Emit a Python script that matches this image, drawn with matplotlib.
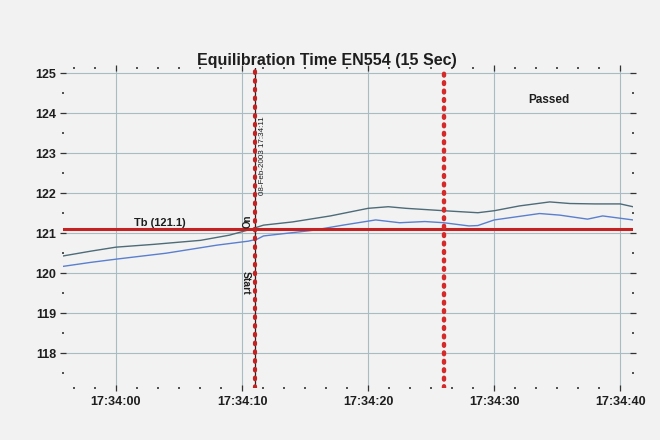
import numpy as np
import matplotlib.pyplot as plt
from matplotlib.ticker import MultipleLocator

# seconds after 17:34:00
t_upper = [-4.2, -2, 0, 3, 6.7, 9, 10.5, 11.7, 14, 17, 20, 21.6, 23, 26, 28.7,
           30, 32, 34.4, 36, 38, 40, 41]
upper = [120.43, 120.55, 120.65, 120.72, 120.82, 120.95, 121.08, 121.2, 121.28,
         121.43, 121.62, 121.66, 121.62, 121.56, 121.51, 121.56, 121.68, 121.78,
         121.74, 121.73, 121.73, 121.66]

t_lower = [-4.2, -2, 0, 4, 8, 10.5, 11.2, 11.7, 15.6, 18, 20, 20.6, 22.5, 24.5,
           26, 28, 28.7, 30, 33.6, 35.2, 37.4, 38.6, 41]
lower = [120.17, 120.27, 120.35, 120.5, 120.7, 120.8, 120.85, 120.93, 121.07,
         121.2, 121.3, 121.33, 121.26, 121.29, 121.26, 121.18, 121.19, 121.33,
         121.49, 121.45, 121.35, 121.43, 121.33]

tb = 121.1
t_start = 11
t_end = 26
xtick_pos = [0, 10, 20, 30, 40]
xtick_labels = ['17:34:00', '17:34:10', '17:34:20', '17:34:30', '17:34:40']
yticks = [118, 119, 120, 121, 122, 123, 124, 125]

plt.rcParams['font.family'] = ['Liberation Sans', 'DejaVu Sans']
bg = '#f2f2f2'
ink = '#1e1e1e'

fig = plt.figure(figsize=(6.6, 4.4), dpi=100, facecolor=bg)
ax = fig.add_axes([0.0955, 0.118, 0.8635, 0.727], facecolor=bg)

ax.grid(True, color='#a9bcc4', lw=0.8, zorder=0)
ax.plot(t_upper, upper, color='#4d6b78', lw=1.0, zorder=2)
ax.plot(t_lower, lower, color='#5a7fcf', lw=1.0, zorder=2)

ax.axhline(tb, color='#c42222', lw=2.2, zorder=3)

# start / end markers
ax.axvline(t_start, color='#222222', lw=0.9, zorder=4)
ax.axvline(t_start, color='#c42222', lw=3.0, ls=(0, (0.4, 1.7)),
           dash_capstyle='round', zorder=5)
ax.axvline(t_end, color='#d42a2a', lw=3.2, ls=(0, (0.4, 1.5)),
           dash_capstyle='round', zorder=5)

ax.text(3.5, tb + 0.02, 'Tb (121.1)', fontsize=8, weight='bold',
        ha='center', va='bottom', color=ink)
ax.text(t_start - 0.2, tb + 0.03, 'On', fontsize=7, weight='bold',
        rotation=90, ha='right', va='bottom', color=ink)
ax.text(t_start - 0.3, 120.05, 'Start', fontsize=7.5, weight='bold',
        rotation=-90, ha='right', va='top', color=ink)
ax.text(t_start + 0.35, 122.93, '08-Feb-2003 17:34:11', fontsize=5.8,
        rotation=90, ha='left', va='center', color=ink)
ax.text(34.3, 124.33, 'Passed', fontsize=8.5, weight='bold', ha='center',
        va='center', color=ink)

ax.set_title('Equilibration Time EN554 (15 Sec)', fontsize=11.5, weight='bold',
             pad=1, color=ink, x=0.463)

ax.set_xlim(-4.2, 41.0)
ax.set_ylim(117.13, 125.12)
ax.set_xticks(xtick_pos)
ax.set_xticklabels(xtick_labels)
ax.set_yticks(yticks)
ax.xaxis.set_minor_locator(MultipleLocator(10 / 6))
ax.yaxis.set_minor_locator(MultipleLocator(0.5))

for s in ax.spines.values():
    s.set_visible(False)

ax.tick_params(which='major', direction='inout', length=5, width=0.9,
               color='#333333', labelsize=9, pad=4,
               top=True, right=True, labelcolor=ink)
ax.tick_params(which='minor', direction='inout', length=1.5, width=1.2,
               color='#333333', top=True, right=True)
ax.tick_params(axis='y', which='major', length=4, pad=3)
ax.tick_params(axis='x', which='major', pad=3)
for lab in ax.get_xticklabels() + ax.get_yticklabels():
    lab.set_fontweight('bold')

fig.savefig('out.png', dpi=100, facecolor=bg)
